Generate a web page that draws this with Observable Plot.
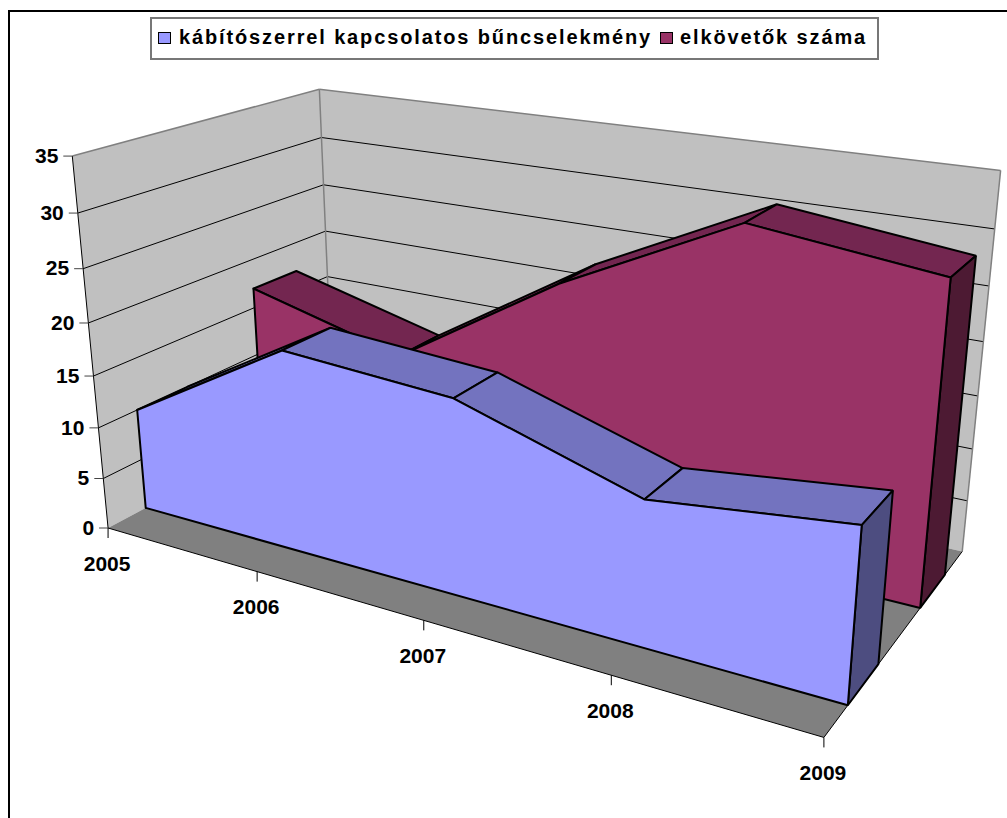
<!DOCTYPE html>
<html lang="hu"><head><meta charset="utf-8">
<script src="https://cdn.jsdelivr.net/npm/d3@7"></script>
<script src="https://cdn.jsdelivr.net/npm/@observablehq/plot@0.6"></script>
<style>
html,body{margin:0;padding:0;background:#fff;overflow:hidden}
#wrap{position:relative;width:1007px;height:818px;overflow:hidden}
#frame{position:absolute;left:7.5px;top:10px;width:1010px;height:830px;border:2.5px solid #000;box-sizing:border-box}
#legend{position:absolute;left:150px;top:16.5px;width:729px;height:43px;box-sizing:border-box;border:2px solid #777;background:#fff;
 font:bold 20px "Liberation Sans",Arial,sans-serif;color:#000;white-space:nowrap}
#legend span{position:absolute;top:7px;letter-spacing:1.87px}
#legend i{position:absolute;top:13px;width:10.5px;height:10.5px;border:1.5px solid #000}
svg{position:absolute;left:0;top:0}
</style></head><body><div id="wrap"><div id="frame"></div><div id="chart"></div>
<div id="legend"></div></div>
<script>
const years=[2005,2006,2007,2008,2009];
const crimes=[10,19,18,13,15];
const offenders=[17,13,23,31,29];
const valueTicks=[0,5,10,15,20,25,30,35];
const seriesNames=["kábítószerrel kapcsolatos bűncselekmény","elkövetők száma"];
const blueDepth=[0.145,0.345];
const maroonDepth=[0.65,0.85];
const valueMax=35;
const W=1007,H=818;

// perspective view: [t along years, value, depth] => picture position of the box's reference points
const viewAnchors=[
 [0,0,0,107,527],[0,5,0,103,478],[0,10,0,98,427],[0,15,0,93,377],[0,20,0,88,322],[0,25,0,83,268],[0,30,0,77,212],[0,35,0,72,156],
 [0,35,1,319,88],[0,30,1,320.5,137],[0,25,1,322.5,184],[0,20,1,325,231],[0,15,1,327.7,277],
 [1,35,1,1001,171],[1,30,1,993,228],[1,10,1,973,448],[1,5,1,966,500],[1,0,1,962,551],
 [0.25,0,0,257,571],[0.5,0,0,423,620],[0.75,0,0,610,675],[1,0,0,824,737]
];
function solve(A,b){const n=b.length,M=A.map((r,i)=>[...r,b[i]]);
 for(let i=0;i<n;i++){let p=i;for(let k=i+1;k<n;k++)if(Math.abs(M[k][i])>Math.abs(M[p][i]))p=k;[M[i],M[p]]=[M[p],M[i]];
  for(let k=i+1;k<n;k++){const f=M[k][i]/M[i][i];for(let j=i;j<=n;j++)M[k][j]-=f*M[i][j];}}
 const x=Array(n).fill(0);for(let i=n-1;i>=0;i--){let s=M[i][n];for(let j=i+1;j<n;j++)s-=M[i][j]*x[j];x[i]=s/M[i][i];}return x;}
const rowsA=[],rowsB=[];
for(const [t,v,d,u,w] of viewAnchors){const X=t,Y=v/valueMax,Z=d,U=u/1000,V=w/1000;
 rowsA.push([X,Y,Z,1,0,0,0,0,-U*X,-U*Y,-U*Z]);rowsB.push(U);
 rowsA.push([0,0,0,0,X,Y,Z,1,-V*X,-V*Y,-V*Z]);rowsB.push(V);}
const ATA=Array.from({length:11},(_,i)=>Array.from({length:11},(_,j)=>d3.sum(rowsA,r=>r[i]*r[j])));
const ATb=Array.from({length:11},(_,i)=>d3.sum(rowsA,(r,k)=>r[i]*rowsB[k]));
const P=solve(ATA,ATb);
function proj(t,v,d){const Y=v/valueMax,s=P[8]*t+P[9]*Y+P[10]*d+1;
 return {x:1000*(P[0]*t+P[1]*Y+P[2]*d+P[3])/s,y:1000*(P[4]*t+P[5]*Y+P[6]*d+P[7])/s};}
const tOf=y=>(y-years[0])/(years[years.length-1]-years[0]);

const poly=(pts,fill,stroke,sw,join="miter")=>Plot.line([...pts,pts[0]],{x:"x",y:"y",fill,stroke,strokeWidth:sw,strokeLinejoin:join,strokeLinecap:"round",curve:"linear"});
const seg=(a,b,stroke,sw)=>Plot.line([a,b],{x:"x",y:"y",stroke,strokeWidth:sw,strokeLinecap:"butt",curve:"linear"});

function ribbon(vals,[d0,d1],front,top,side){
 const marks=[];
 const n=vals.length,T=years.map(tOf);
 for(let i=0;i<n-1;i++)marks.push(poly([proj(T[i],vals[i],d0),proj(T[i+1],vals[i+1],d0),proj(T[i+1],vals[i+1],d1),proj(T[i],vals[i],d1)],top,"#000",2));
 marks.push(poly([proj(1,vals[n-1],d0),proj(1,vals[n-1],d1),proj(1,0,d1),proj(1,0,d0)],side,"#000",2));
 marks.push(poly([proj(0,0,d0),...vals.map((v,i)=>proj(T[i],v,d0)),proj(1,0,d0)],front,"#000",2));
 return marks;
}

const marks=[
 poly([proj(0,0,0),proj(0,valueMax,0),proj(0,valueMax,1),proj(0,0,1)],"#c0c0c0","none",0),
 poly([proj(0,0,1),proj(0,valueMax,1),proj(1,valueMax,1),proj(1,0,1)],"#c0c0c0","none",0),
 poly([proj(0,0,0),proj(1,0,0),proj(1,0,1),proj(0,0,1)],"#808080","none",0),
 ...valueTicks.filter(v=>v>0&&v<valueMax).flatMap(v=>[seg(proj(0,v,0),proj(0,v,1),"#000",1),seg(proj(0,v,1),proj(1,v,1),"#000",1)]),
 seg(proj(0,valueMax,0),proj(0,valueMax,1),"#808080",1.5),
 seg(proj(0,valueMax,1),proj(1,valueMax,1),"#808080",1.5),
 seg(proj(0,0,1),proj(0,valueMax,1),"#808080",1.5),
 seg(proj(1,0,1),proj(1,valueMax,1),"#808080",1.5),
 seg(proj(0,0,0),proj(0,valueMax,0),"#000",1),
 seg(proj(0,0,0),proj(1,0,0),"#000",1),
 seg(proj(1,0,0),proj(1,0,1),"#000",1),
 ...ribbon(offenders,maroonDepth,"#993366","#732650","#4d1a33"),
 ...ribbon(crimes,blueDepth,"#9999ff","#7373bf","#4d4d80"),
 Plot.link(valueTicks,{x1:v=>proj(0,v,0).x-9,x2:v=>proj(0,v,0).x,y1:v=>proj(0,v,0).y,y2:v=>proj(0,v,0).y,stroke:"#444",strokeWidth:1}),
 Plot.link(years,{x1:y=>proj(tOf(y),0,0).x,x2:y=>proj(tOf(y),0,0).x,y1:y=>proj(tOf(y),0,0).y,y2:y=>proj(tOf(y),0,0).y+10,stroke:"#000",strokeWidth:1}),
 Plot.text(valueTicks,{x:v=>proj(0,v,0).x-14,y:v=>proj(0,v,0).y,text:v=>String(v),textAnchor:"end",fontSize:21,fontWeight:"bold",fontFamily:"Liberation Sans",fill:"#000"}),
 Plot.text(years,{x:y=>proj(tOf(y),0,0).x-1,y:y=>proj(tOf(y),0,0).y+36,text:y=>String(y),textAnchor:"middle",fontSize:21,fontWeight:"bold",fontFamily:"Liberation Sans",fill:"#000"})
];
const chart=Plot.plot({width:W,height:H,margin:0,style:{background:"transparent",overflow:"hidden"},
 x:{domain:[0,W],range:[0,W],axis:null},y:{domain:[0,H],range:[0,H],axis:null},marks});
document.getElementById("chart").append(chart);
const lg=document.getElementById("legend");
[[seriesNames[0],"#9999ff",6,27],[seriesNames[1],"#993366",508,528]].forEach(([n,c,sx,tx])=>{
 const i=document.createElement("i");i.style.left=sx+"px";i.style.background=c;lg.append(i);
 const s=document.createElement("span");s.style.left=tx+"px";s.textContent=n;lg.append(s);});
</script></body></html>
